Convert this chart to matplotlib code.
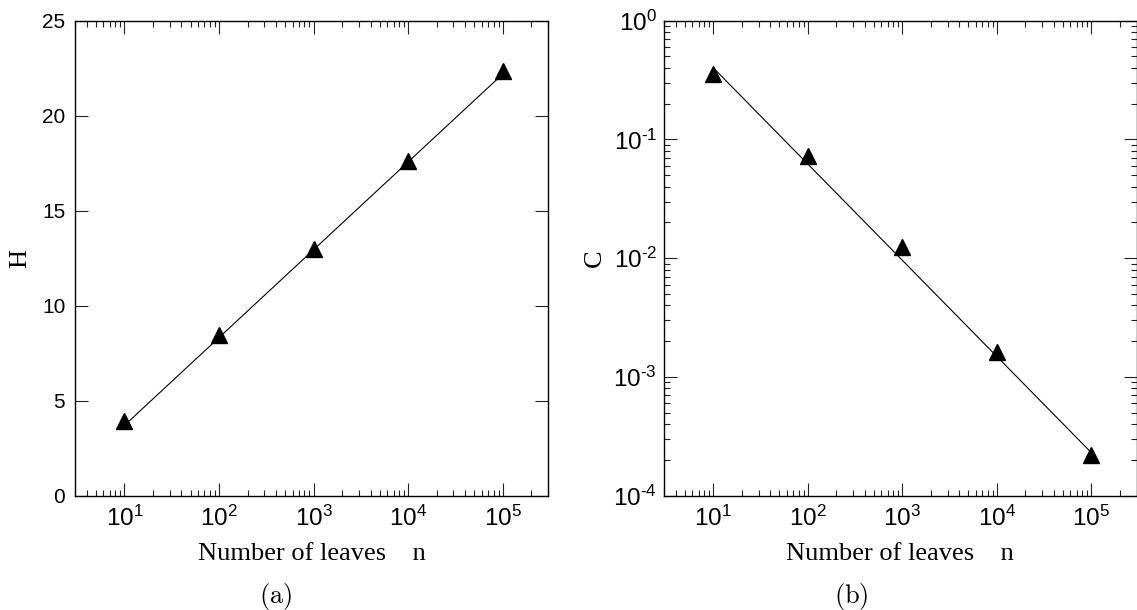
import matplotlib
matplotlib.use("Agg")
import matplotlib.pyplot as plt
from matplotlib.ticker import FixedLocator, FixedFormatter, LogLocator, NullFormatter

plt.rcParams['mathtext.fontset'] = 'custom'
plt.rcParams['mathtext.rm'] = 'Liberation Sans'
plt.rcParams['mathtext.default'] = 'regular'
plt.rcParams['font.family'] = ['Liberation Sans', 'DejaVu Sans']

# data
n_leaves = [10, 100, 1000, 10000, 100000]
H_vals = [3.92, 8.48, 13.0, 17.6, 22.35]
C_vals = [0.355, 0.072, 0.0124, 0.00163, 0.000219]

# straight fit lines drawn through the points
fit_n = [10, 100000]
fit_H = [3.7, 22.2]
fit_C = [0.40, 0.00023]

xtick_vals = [1e1, 1e2, 1e3, 1e4, 1e5]
xtick_labels = [r'$10^{1}$', r'$10^{2}$', r'$10^{3}$', r'$10^{4}$', r'$10^{5}$']
H_ticks = [0, 5, 10, 15, 20, 25]
C_ticks = [1e-4, 1e-3, 1e-2, 1e-1, 1]
C_tick_labels = [r'$10^{\text{-}4}$', r'$10^{\text{-}3}$', r'$10^{\text{-}2}$',
                 r'$10^{\text{-}1}$', r'$10^{0}$']

W, Hgt = 1137, 610
fig = plt.figure(figsize=(W / 100, Hgt / 100), dpi=100)

ax1 = fig.add_axes([75 / W, 1 - 495.7 / Hgt, 473 / W, 475 / Hgt])
ax2 = fig.add_axes([664 / W, 1 - 495.7 / Hgt, 472.5 / W, 475 / Hgt])

serif = ['Liberation Serif', 'DejaVu Serif']

for ax in (ax1, ax2):
    ax.set_xscale('log')
    ax.set_xlim(3, 3e5)
    ax.xaxis.set_major_locator(FixedLocator(xtick_vals))
    ax.xaxis.set_major_formatter(FixedFormatter(xtick_labels))
    ax.xaxis.set_minor_locator(LogLocator(base=10, subs=range(2, 10), numticks=20))
    ax.xaxis.set_minor_formatter(NullFormatter())
    ax.tick_params(which='both', direction='in', top=True, right=True, width=0.8, color='#222222')
    ax.tick_params(which='major', length=9.5)
    ax.tick_params(which='minor', length=4.5)
    ax.tick_params(axis='x', labelsize=17.5, pad=7)
    for s in ax.spines.values():
        s.set_linewidth(1.0)
    ax.set_xlabel('Number of leaves    n', fontsize=19, family=serif)
    ax.xaxis.label.set_va('baseline')
    ax.xaxis.set_label_coords(0.5, -(560 - 495.7) / 475)

# panel (a)
ax1.plot(fit_n, fit_H, color='black', lw=0.8)
ax1.plot(n_leaves, H_vals, linestyle='none', marker='^', ms=11, color='black')
ax1.set_ylim(0, 25)
ax1.set_yticks(H_ticks)
ax1.tick_params(axis='y', labelsize=15, pad=7)
ax1.set_ylabel('H', fontsize=19, family=serif)
ax1.yaxis.label.set_va('center')
ax1.yaxis.set_label_coords((20 - 75) / 473, 0.5)

# panel (b)
ax2.plot(fit_n, fit_C, color='black', lw=0.8)
ax2.plot(n_leaves, C_vals, linestyle='none', marker='^', ms=11, color='black')
ax2.set_yscale('log')
ax2.set_ylim(1e-4, 1)
ax2.yaxis.set_major_locator(FixedLocator(C_ticks))
ax2.yaxis.set_major_formatter(FixedFormatter(C_tick_labels))
ax2.yaxis.set_minor_locator(LogLocator(base=10, subs=range(2, 10), numticks=20))
ax2.yaxis.set_minor_formatter(NullFormatter())
ax2.tick_params(axis='y', labelsize=17.5, pad=5)
ax2.set_ylabel('C', fontsize=19, family=serif)
ax2.yaxis.label.set_va('center')
ax2.yaxis.set_label_coords((595 - 664) / 472.5, 0.5)

# sub-figure captions
fig.text(276 / W, 1 - 603 / Hgt, r'$\mathrm{(a)}$', ha='center', va='baseline',
         fontsize=19, math_fontfamily='cm')
fig.text(851 / W, 1 - 603 / Hgt, r'$\mathrm{(b)}$', ha='center', va='baseline',
         fontsize=19, math_fontfamily='cm')

fig.savefig('out.png', dpi=100)
